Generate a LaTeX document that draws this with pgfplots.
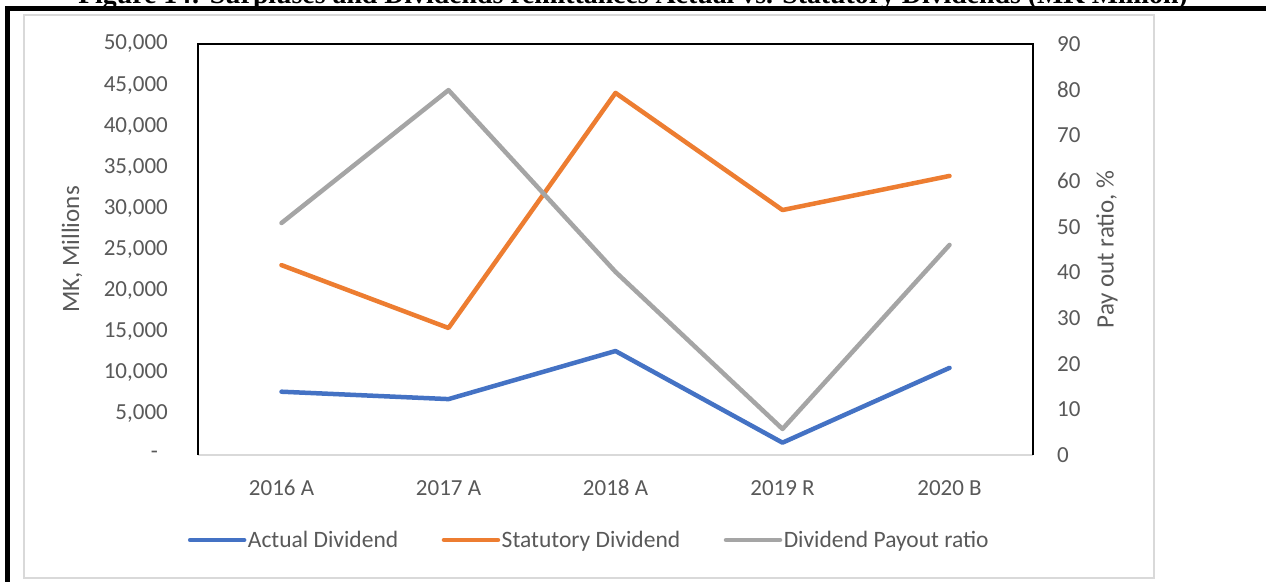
\documentclass[border=0pt]{standalone}
\usepackage{fontspec}
\setmainfont{Carlito}
\newfontfamily\capfont{Liberation Serif}
\usepackage{pgfplots}
\pgfplotsset{compat=1.18}
\definecolor{sblue}{HTML}{4472C4}
\definecolor{sorange}{HTML}{ED7D31}
\definecolor{sgray}{HTML}{A5A5A5}
\definecolor{txt}{HTML}{595959}
\definecolor{bord}{HTML}{D9D9D9}
\pgfplotsset{
  common/.style={
    scale only axis, width=835pt, height=411pt,
    at={(198pt,126pt)}, anchor=south west,
    xmin=-0.5, xmax=4.5, ymin=0,
    clip=false,
    scaled y ticks=false,
    axis line style={draw=none},
    tick style={draw=none},
    tick label style={font=\fontsize{23}{27}\selectfont, text=txt},
    label style={font=\fontsize{25}{30}\selectfont, text=txt},
  },
  serie/.style={line width=4.5pt, line cap=round, line join=round},
}
\begin{document}
\begin{tikzpicture}[x=1pt,y=1pt]
\useasboundingbox (0,0) rectangle (1266,581);
\fill[white] (0,0) rectangle (1266,581);
\draw[bord, line width=1.5pt] (24,3) rectangle (1154,566);
\node[anchor=base, font=\capfont\bfseries\fontsize{27.8}{32}\selectfont] at (633,577.5) {Figure 14: Surpluses and Dividends remittances Actual vs. Statutory Dividends (MK Million)};
\draw[black, line width=5pt] (7.5,-5) -- (7.5,572.5) -- (1280,572.5);

\begin{axis}[common,
  ymax=50000,
  xtick={0,1,2,3,4},
  xticklabels={2016 A, 2017 A, 2018 A, 2019 R, 2020 B},
  xticklabel style={anchor=north, inner sep=0pt, yshift=-25pt},
  ytick={0,5000,10000,15000,20000,25000,30000,35000,40000,45000,50000},
  yticklabels={{-\hspace*{10pt}},{5,000},{10,000},{15,000},{20,000},{25,000},{30,000},{35,000},{40,000},{45,000},{50,000}},
  yticklabel style={anchor=east, inner sep=0pt, xshift=-30pt},
  ylabel={MK, Millions},
  ylabel style={at={(axis description cs:-0.1509,0.5)}, anchor=center},
]
\draw[bord, line width=2pt] (rel axis cs:0,0) -- (rel axis cs:1,0);
\draw[black, line width=2.5pt] (rel axis cs:0,0) -- (rel axis cs:0,1) -- (rel axis cs:1,1) -- (rel axis cs:1,0);
\addplot[sblue, serie] coordinates {(0,7700) (1,6800) (2,12650) (3,1500) (4,10600)};
\addplot[sorange, serie] coordinates {(0,23100) (1,15450) (2,44050) (3,29800) (4,33950)};
\end{axis}

\begin{axis}[common,
  ymax=90,
  axis x line=none,
  axis y line*=right,
  ytick={0,10,20,30,40,50,60,70,80,90},
  yticklabels={0,10,20,30,40,50,60,70,80,90},
  yticklabel style={anchor=west, inner sep=0pt, xshift=24pt},
  ylabel={Pay out ratio, \%},
  ylabel style={at={(axis description cs:1.0886,0.5)}, anchor=center},
  legend style={at={(0.4683,-0.2068)}, anchor=center, legend columns=3,
    draw=none, fill=none, text=txt, font=\fontsize{23.5}{28}\selectfont,
    /tikz/every even column/.append style={column sep=42pt},
    nodes={inner sep=1.5pt}},
  legend image code/.code={\draw[#1] (0pt,0pt) -- (54pt,0pt);},
]
\addlegendimage{sblue, serie}
\addlegendentry{Actual Dividend}
\addlegendimage{sorange, serie}
\addlegendentry{Statutory Dividend}
\addplot[sgray, serie] coordinates {(0,50.8) (1,79.9) (2,40.1) (3,5.7) (4,46.0)};
\addlegendentry{Dividend Payout ratio}
\end{axis}
\end{tikzpicture}
\end{document}
